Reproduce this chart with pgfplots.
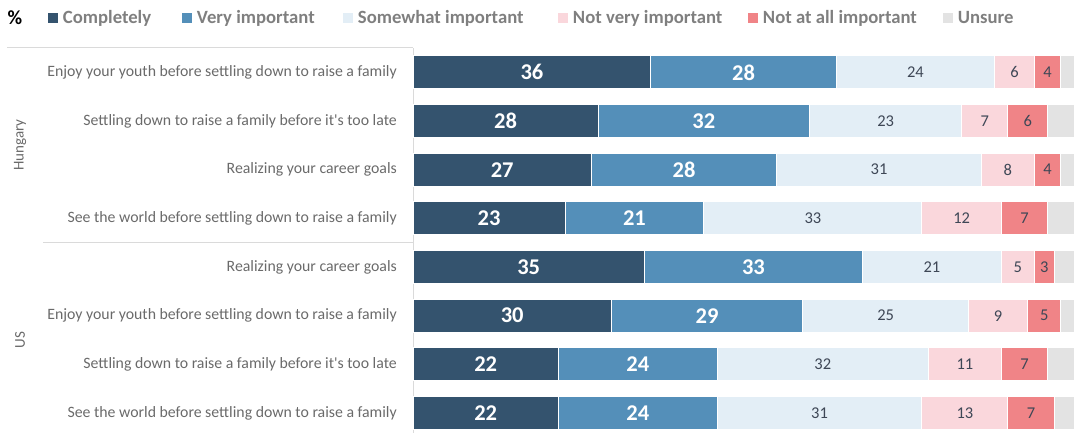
\documentclass[border=0pt]{standalone}
\usepackage{pgfplots}
\pgfplotsset{compat=1.18}
\usepackage{pgfplotstable}
\usepackage{fontspec}
\setmainfont{Carlito}
\definecolor{cComp}{HTML}{34536E}
\definecolor{cVery}{HTML}{548FB9}
\definecolor{cSome}{HTML}{E3EEF6}
\definecolor{cNotv}{HTML}{FAD7DC}
\definecolor{cNota}{HTML}{F08487}
\definecolor{cUns}{HTML}{E3E3E3}
\definecolor{txtgray}{HTML}{7F7F7F}
\definecolor{lblgray}{HTML}{6A6A6A}
\definecolor{numdark}{HTML}{3E4756}
\definecolor{linegray}{HTML}{DADADA}

% pos: vertical position (7 = top row)
\pgfplotstableread{
pos a b c d e f
7 36 28 24 6 4 2
6 28 32 23 7 6 4
5 27 28 31 8 4 2
4 23 21 33 12 7 4
3 35 33 21 5 3 3
2 30 29 25 9 5 2
1 22 24 32 11 7 4
0 22 24 31 13 7 3
}\data

\pgfplotsset{base/.style={
  at={(413pt,0pt)}, anchor=south west,
  width=661pt, height=385pt, scale only axis,
  xmin=0, xmax=100, ymin=-0.41, ymax=7.5,
}}

\begin{document}
\begin{tikzpicture}
\useasboundingbox (0,0) rectangle (1074pt,433pt);
\begin{axis}[base, xbar stacked, bar width=33pt,
  axis lines*=left,
  x axis line style={draw=none},
  y axis line style={draw=linegray, line width=1pt},
  xtick=\empty,
  ytick={0,...,7},
  yticklabels={See the world before settling down to raise a family,
    Settling down to raise a family before it\textquotesingle s too late,
    Enjoy your youth before settling down to raise a family,
    Realizing your career goals,
    See the world before settling down to raise a family,
    Realizing your career goals,
    Settling down to raise a family before it\textquotesingle s too late,
    Enjoy your youth before settling down to raise a family},
  major tick length=0pt,
  yticklabel style={font=\fontsize{15.8}{18}\selectfont, text=lblgray, inner sep=0pt, xshift=-16pt},
  legend columns=-1,
  legend style={at={(-0.5522,1.0779)}, anchor=west, draw=none, fill=none,
    font=\bfseries\fontsize{18.7}{20}\selectfont, text=txtgray, inner sep=0pt, outer sep=0pt,
    nodes={inner sep=0pt},
    /tikz/every odd column/.append style={column sep=5pt},
    /tikz/every even column/.append style={column sep=0pt}},
  legend image code/.code={\path[#1,draw=none,fill] (0pt,-5pt) rectangle (10pt,5pt);},
  every axis plot/.append style={draw=white, line width=1pt},
]
\addplot[fill=cComp] table[x=a,y=pos]{\data};
\addplot[fill=cVery] table[x=b,y=pos]{\data};
\addplot[fill=cSome] table[x=c,y=pos]{\data};
\addplot[fill=cNotv] table[x=d,y=pos]{\data};
\addplot[fill=cNota] table[x=e,y=pos]{\data};
\addplot[fill=cUns] table[x=f,y=pos]{\data};
\legend{\makebox[119pt][l]{Completely}, \makebox[146pt][l]{Very important},
  \makebox[200pt][l]{Somewhat important}, \makebox[175pt][l]{Not very important},
  \makebox[180pt][l]{Not at all important}, Unsure}
\end{axis}

\begin{axis}[base, hide axis, /pgf/number format/assume math mode=true,
  every axis plot/.append style={only marks, mark=none, nodes near coords, point meta=explicit},
  big/.style={every node near coord/.append style={anchor=center, text=white, font=\bfseries\fontsize{22.5}{24}\selectfont}},
  small/.style={every node near coord/.append style={anchor=center, text=numdark, font=\fontsize{16.5}{18}\selectfont}},
]
\addplot[big] table[x expr=\thisrow{a}/2, y=pos, meta=a]{\data};
\addplot[big] table[x expr=\thisrow{a}+\thisrow{b}/2, y=pos, meta=b]{\data};
\addplot[small] table[x expr=\thisrow{a}+\thisrow{b}+\thisrow{c}/2, y=pos, meta=c]{\data};
\addplot[small] table[x expr=\thisrow{a}+\thisrow{b}+\thisrow{c}+\thisrow{d}/2, y=pos, meta=d]{\data};
\addplot[small] table[x expr=\thisrow{a}+\thisrow{b}+\thisrow{c}+\thisrow{d}+\thisrow{e}/2, y=pos, meta=e]{\data};
\end{axis}

\draw[linegray, line width=1pt] (7pt,385pt) -- (413pt,385pt);
\draw[linegray, line width=1pt] (43pt,190pt) -- (413pt,190pt);
\node[rotate=90, font=\fontsize{15}{18}\selectfont, text=lblgray] at (20pt,288pt) {Hungary};
\node[rotate=90, font=\fontsize{15}{18}\selectfont, text=lblgray] at (20pt,93pt) {US};
\node[font=\bfseries\fontsize{20}{22}\selectfont, text=black] at (15pt,415pt) {\%};
\end{tikzpicture}
\end{document}
